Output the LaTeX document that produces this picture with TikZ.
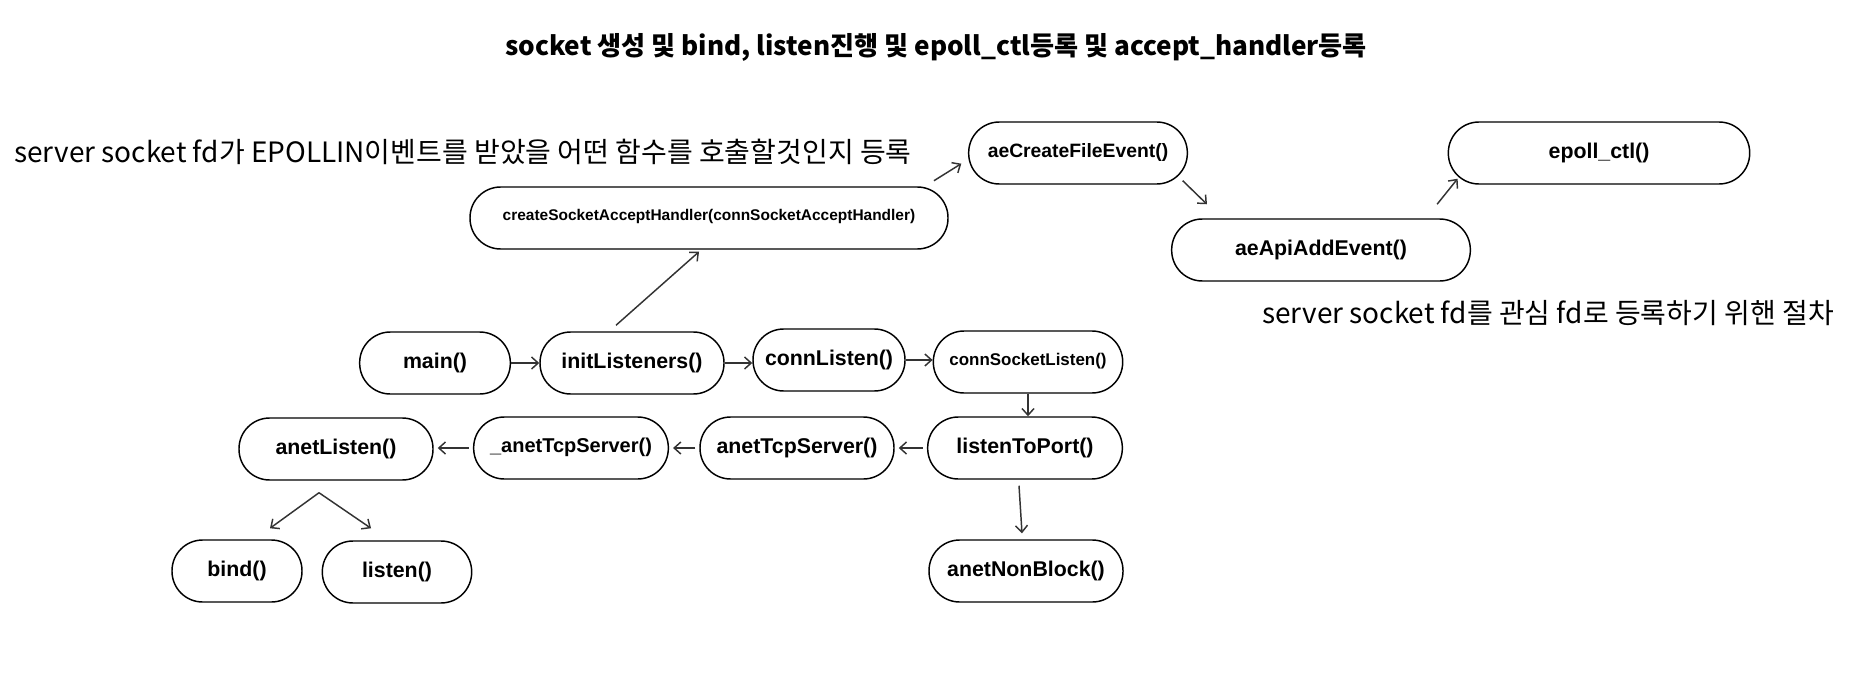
\documentclass[tikz,border=0pt]{standalone}
\usepackage{fontspec}
\setmainfont{Liberation Sans}
\newfontfamily\krfont{Noto Sans CJK KR}
\usetikzlibrary{arrows.meta}

\begin{document}
\begin{tikzpicture}[x=0.75pt, y=-0.75pt,
    fn/.style={draw, line width=1.1pt, rounded corners=23pt, minimum height=46.5pt,
      inner sep=0pt, text depth=0.4em, font=\bfseries\fontsize{16}{19}\selectfont},
    arr/.style={draw=black!80, line width=1.1pt, -{Straight Barb[length=5pt,width=9pt]}},
    note/.style={font=\krfont\fontsize{21}{25}\selectfont, inner sep=0pt}]
  \useasboundingbox (0,0) rectangle (1865,681);

  \node[font=\krfont\bfseries\fontsize{19.6}{24}\selectfont] (title) at (936,47)
    {socket 생성 및 bind, listen진행 및 epoll\_ctl등록 및 accept\_handler등록};

  % top: handler registration
  \node[note, anchor=west] (note1) at (14,152)
    {server socket fd가 EPOLLIN이벤트를 받았을 어떤 함수를 호출할것인지 등록};
  \node[fn, minimum width=358.5pt, font=\bfseries\fontsize{11.6}{14}\selectfont] (csah) at (709,218)
    {createSocketAcceptHandler(connSocketAcceptHandler)};
  \node[fn, minimum width=164pt, font=\bfseries\fontsize{14.5}{17}\selectfont] (acfe) at (1078,153) {aeCreateFileEvent()};
  \node[fn, minimum width=224pt] (aaae) at (1321,250) {aeApiAddEvent()};
  \node[fn, minimum width=226pt] (epoll) at (1599,153) {epoll\_ctl()};
  \node[note, anchor=west] (note2) at (1262,313) {server socket fd를 관심 fd로 등록하기 위핸 절차};

  % main row
  \node[fn, minimum width=113pt] (main) at (435,363) {main()};
  \node[fn, minimum width=138pt] (init) at (632,363) {initListeners()};
  \node[fn, minimum width=114pt] (cl) at (829,360) {connListen()};
  \node[fn, minimum width=142pt, font=\bfseries\fontsize{12.7}{15}\selectfont] (csl) at (1028,362) {connSocketListen()};

  % second row
  \node[fn, minimum width=146pt] (ltp) at (1025,448) {listenToPort()};
  \node[fn, minimum width=145.5pt] (ats) at (797,448) {anetTcpServer()};
  \node[fn, minimum width=146pt, font=\bfseries\fontsize{15}{18}\selectfont] (uats) at (571,448) {\_anetTcpServer()};
  \node[fn, minimum width=145.5pt] (al) at (336,449) {anetListen()};

  % leaves
  \node[fn, minimum width=97.5pt] (bind) at (237,571) {bind()};
  \node[fn, minimum width=112pt] (listen) at (397,572) {listen()};
  \node[fn, minimum width=145.5pt] (anb) at (1026,571) {anetNonBlock()};

  \foreach \a/\b in {main/init, init/cl, cl/csl}
    \draw[arr] (\a.east) -- (\a.east -| \b.west);
  \foreach \a/\b in {ltp/ats, ats/uats, uats/al}
    \draw[arr, shorten <=3pt, shorten >=3pt] (\a.west) -- (\a.west -| \b.east);
  \draw[arr] (csl.south) -- (csl.south |- ltp.north);
  \draw[arr] ([xshift=-4.5pt,yshift=-4.5pt]ltp.south) -- ([xshift=-3pt,yshift=4.5pt]anb.north);
  \draw[arr] ([xshift=-12.75pt,yshift=-9pt]al.south) -- ([xshift=24.75pt,yshift=8.25pt]bind.north);
  \draw[arr] ([xshift=-12.75pt,yshift=-9pt]al.south) -- ([xshift=-19.5pt,yshift=9pt]listen.north);
  \draw[arr] ([xshift=-12pt,yshift=4.5pt]init.north) -- ([xshift=-7.5pt,yshift=-1.5pt]csah.south);
  \draw[arr] ([xshift=-25.5pt,yshift=3pt]acfe.south west) -- ([xshift=-5pt,yshift=-8pt]acfe.west);
  \draw[arr] ([xshift=-4pt,yshift=3pt]acfe.south east) -- ([xshift=27pt,yshift=10.5pt]aaae.north west);
  \draw[arr] ([xshift=-25.5pt,yshift=10.5pt]aaae.north east) -- ([xshift=7.5pt,yshift=4.5pt]epoll.south west);
\end{tikzpicture}
\end{document}
